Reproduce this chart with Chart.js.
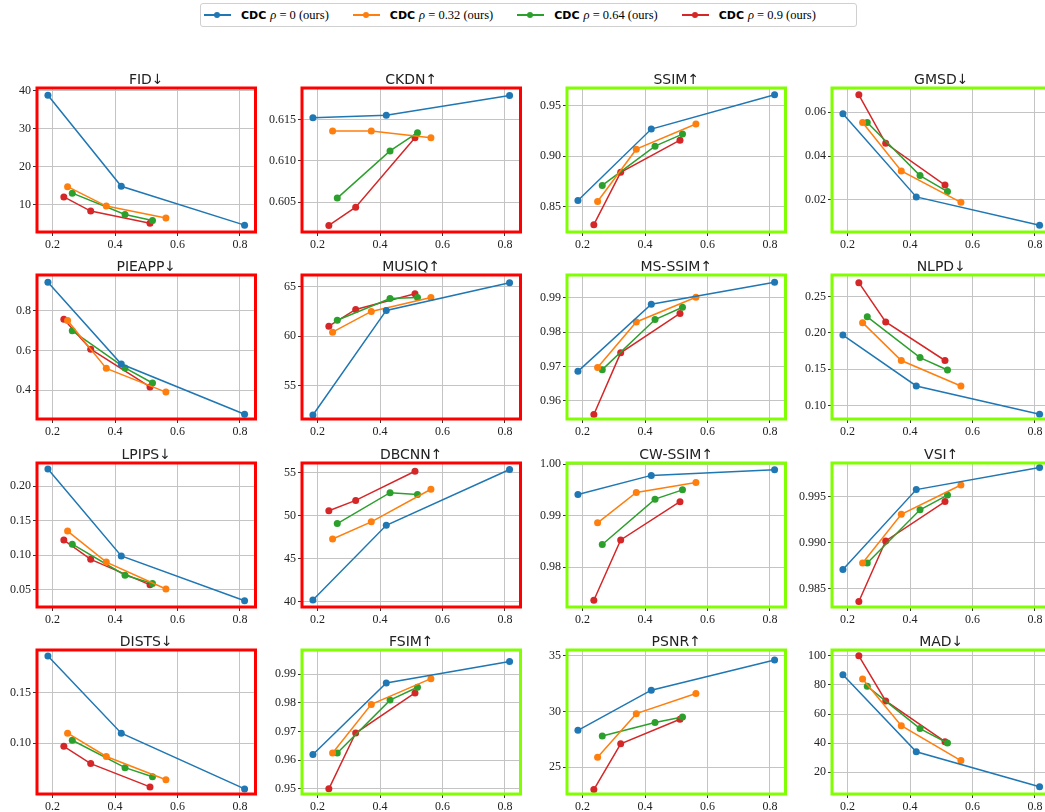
<!DOCTYPE html>
<html>
<head>
<meta charset="utf-8">
<script src="https://cdn.jsdelivr.net/npm/chart.js@4.4.1/dist/chart.umd.min.js"></script>
<style>
  html, body { margin: 0; padding: 0; background: #fff; width: 1045px; height: 812px; overflow: hidden; position: relative; }
  .cell { position: absolute; }
  .legend {
    position: absolute; left: 200px; top: 3px; width: 657px; height: 24px;
    border: 1px solid #d0d0d0; border-radius: 3px; box-sizing: border-box;
    display: flex; align-items: center; padding-left: 3px;
  }
  .item { display: flex; align-items: center; margin-right: 24px; }
  .item:last-child { margin-right: 0; }
  .swatch { position: relative; width: 27px; height: 10px; margin-right: 10px; }
  .swatch .ln { position: absolute; left: 0; right: 0; top: 4px; height: 2px; }
  .swatch .dt { position: absolute; left: 10px; top: 2px; width: 6px; height: 6px; border-radius: 50%; }
  .cdc { font-family: "DejaVu Sans", sans-serif; font-weight: bold; font-size: 11px; margin-right: 4px; }
  .math { font-family: "Liberation Serif", serif; font-size: 12.5px; }
  .math i { font-style: italic; }
</style>
</head>
<body>
<div class="legend" id="legend"></div>
<script>
// bit-rate positions for the four settings
const xRho0 = [0.185, 0.42, 0.815];
const xRho032 = [0.248, 0.372, 0.563];
const xRho064 = [0.263, 0.432, 0.52];
const xRho09 = [0.236, 0.322, 0.512];

const metricNames = ['FID↓', 'CKDN↑', 'SSIM↑', 'GMSD↓', 'PIEAPP↓', 'MUSIQ↑', 'MS-SSIM↑', 'NLPD↓',
                     'LPIPS↓', 'DBCNN↑', 'CW-SSIM↑', 'VSI↑', 'DISTS↓', 'FSIM↑', 'PSNR↑', 'MAD↓'];

const yRho0 = [
    [38.8, 14.9, 4.7], [0.6152, 0.6155, 0.6179], [0.856, 0.927, 0.961], [0.0593, 0.0214, 0.0085],
    [0.945, 0.532, 0.278], [52.0, 62.6, 65.4], [0.9686, 0.9882, 0.9946], [0.197, 0.127, 0.088],
    [0.225, 0.099, 0.034], [40.2, 48.9, 55.4], [0.9941, 0.9978, 0.9989], [0.9871, 0.9958, 0.9982],
    [0.186, 0.110, 0.055], [0.962, 0.987, 0.9945], [28.3, 31.9, 34.6], [87, 34, 10]
];
const yRho032 = [
    [14.8, 9.7, 6.6], [0.6136, 0.6136, 0.6128], [0.855, 0.907, 0.932], [0.0553, 0.0332, 0.0189],
    [0.752, 0.510, 0.390], [60.4, 62.5, 63.9], [0.9697, 0.9830, 0.9902], [0.214, 0.162, 0.127],
    [0.135, 0.090, 0.051], [47.3, 49.3, 53.1], [0.9886, 0.9945, 0.9964], [0.9878, 0.9931, 0.9963],
    [0.110, 0.087, 0.064], [0.9625, 0.9795, 0.9885], [25.9, 29.8, 31.6], [84, 52, 28]
];
const yRho064 = [
    [13.1, 7.5, 5.9], [0.6055, 0.6112, 0.6134], [0.871, 0.910, 0.922], [0.0553, 0.0311, 0.0238],
    [0.700, 0.512, 0.436], [61.6, 63.8, 63.9], [0.9691, 0.9837, 0.9873], [0.222, 0.166, 0.149],
    [0.116, 0.071, 0.059], [49.1, 52.7, 52.5], [0.9844, 0.9932, 0.9950], [0.9878, 0.9936, 0.9952],
    [0.103, 0.076, 0.067], [0.9625, 0.981, 0.9855], [27.8, 29.0, 29.5], [79, 50, 40]
];
const yRho09 = [
    [12.1, 8.4, 5.2], [0.6022, 0.6044, 0.6128], [0.832, 0.884, 0.916], [0.0679, 0.0458, 0.0268],
    [0.758, 0.607, 0.416], [61.0, 62.7, 64.3], [0.9560, 0.9740, 0.9855], [0.269, 0.215, 0.162],
    [0.122, 0.094, 0.057], [50.6, 51.8, 55.2], [0.9736, 0.9853, 0.9927], [0.9836, 0.9902, 0.9945],
    [0.097, 0.080, 0.057], [0.950, 0.9695, 0.9835], [23.0, 27.1, 29.3], [100, 69, 41]
];

// y tick labels and visible y range for each panel
const yTicks = [
    [10, 20, 30, 40], [0.605, 0.610, 0.615], [0.85, 0.90, 0.95], [0.02, 0.04, 0.06],
    [0.4, 0.6, 0.8], [55, 60, 65], [0.96, 0.97, 0.98, 0.99], [0.10, 0.15, 0.20, 0.25],
    [0.05, 0.10, 0.15, 0.20], [40, 45, 50, 55], [0.98, 0.99, 1.00], [0.985, 0.990, 0.995],
    [0.10, 0.15], [0.95, 0.96, 0.97, 0.98, 0.99], [25, 30, 35], [20, 40, 60, 80, 100]
];
const yMin = [2.9, 0.6014, 0.8247, 0.0054, 0.254, 51.6, 0.9547, 0.0816,
              0.0249, 39.38, 0.9723, 0.9830, 0.050, 0.9482, 22.6, 5];
const yMax = [40.7, 0.6188, 0.9678, 0.071, 0.982, 66.19, 0.9967, 0.2795,
              0.2338, 56.16, 1.0002, 0.9987, 0.192, 0.9985, 35.5, 104];
const xTicks = [0.2, 0.4, 0.6, 0.8];

const seriesLabels = ['0', '0.32', '0.64', '0.9'];
const colors = ['#1f77b4', '#ff7f0e', '#2ca02c', '#d62728'];
const badMetrics = ['FID↓', 'CKDN↑', 'PIEAPP↓', 'MUSIQ↑', 'LPIPS↓', 'DBCNN↑', 'DISTS↓'];

// grid geometry (plot areas)
const colLeft = [37, 302, 567, 832];
const rowTop = [88, 275, 463, 650];
const plotW = 222;
const plotH = 144;
const yAxisW = 40;
const topPad = 24;
const xAxisH = 22;

function decimalsOf(ticks) {
    let d = 0;
    ticks.forEach(t => {
        const s = String(t);
        if (s.includes('.')) d = Math.max(d, s.split('.')[1].length);
    });
    return d;
}

const framePlugin = {
    id: 'frame',
    afterDraw(chart, args, opts) {
        const { ctx, chartArea: a } = chart;
        ctx.save();
        ctx.strokeStyle = opts.color;
        ctx.lineWidth = 3;
        ctx.strokeRect(a.left, a.top, a.right - a.left, a.bottom - a.top);
        ctx.fillStyle = '#222';
        ctx.font = '14px "DejaVu Sans", sans-serif';
        ctx.textAlign = 'center';
        ctx.textBaseline = 'alphabetic';
        ctx.fillText(opts.title, (a.left + a.right) / 2, a.top - 4);
        ctx.restore();
    }
};

const xs = [xRho0, xRho032, xRho064, xRho09];
const ys = [yRho0, yRho032, yRho064, yRho09];

metricNames.forEach((name, i) => {
    const r = Math.floor(i / 4), c = i % 4;
    const div = document.createElement('div');
    div.className = 'cell';
    div.style.left = (colLeft[c] - yAxisW) + 'px';
    div.style.top = (rowTop[r] - topPad) + 'px';
    div.style.width = (plotW + yAxisW) + 'px';
    div.style.height = (topPad + plotH + xAxisH) + 'px';
    const canvas = document.createElement('canvas');
    div.appendChild(canvas);
    document.body.appendChild(div);

    const dec = decimalsOf(yTicks[i]);
    const datasets = colors.map((col, k) => ({
        label: 'CDC ρ = ' + seriesLabels[k] + ' (ours)',
        data: xs[k].map((x, j) => ({ x: x, y: ys[k][i][j] })),
        borderColor: col,
        backgroundColor: col,
        borderWidth: 1.5,
        pointRadius: 3.5,
        pointBorderWidth: 0,
        pointHoverRadius: 3.5,
        tension: 0
    }));

    new Chart(canvas, {
        type: 'line',
        data: { datasets: datasets },
        options: {
            responsive: true,
            maintainAspectRatio: false,
            animation: false,
            layout: { padding: { top: topPad, left: 0, right: 0, bottom: 0 } },
            plugins: {
                legend: { display: false },
                tooltip: { enabled: false },
                frame: { color: badMetrics.includes(name) ? '#ff0000' : '#80ff00', title: name }
            },
            scales: {
                x: {
                    type: 'linear',
                    min: 0.15, max: 0.85,
                    afterBuildTicks: s => { s.ticks = xTicks.map(v => ({ value: v })); },
                    afterFit: s => { s.height = xAxisH; },
                    grid: { color: '#c4c4c4', lineWidth: 1, drawTicks: true, tickLength: 4, tickColor: '#333' },
                    border: { display: false },
                    ticks: {
                        color: '#222', padding: 2, maxRotation: 0,
                        font: { family: '"Liberation Serif", serif', size: 12 },
                        callback: v => v.toFixed(1)
                    }
                },
                y: {
                    min: yMin[i], max: yMax[i],
                    afterBuildTicks: s => { s.ticks = yTicks[i].map(v => ({ value: v })); },
                    afterFit: s => { s.width = yAxisW; },
                    grid: { color: '#c4c4c4', lineWidth: 1, drawTicks: true, tickLength: 4, tickColor: '#333' },
                    border: { display: false },
                    ticks: {
                        color: '#222', padding: 2,
                        font: { family: '"Liberation Serif", serif', size: 12 },
                        callback: v => Number(v).toFixed(dec)
                    }
                }
            }
        },
        plugins: [framePlugin]
    });
});

// shared legend on top
const legend = document.getElementById('legend');
seriesLabels.forEach((lab, k) => {
    const item = document.createElement('div');
    item.className = 'item';
    item.innerHTML =
        '<span class="swatch"><span class="ln" style="background:' + colors[k] + '"></span>' +
        '<span class="dt" style="background:' + colors[k] + '"></span></span>' +
        '<span class="cdc">CDC</span>' +
        '<span class="math"><i>ρ</i> = ' + lab + ' (ours)</span>';
    legend.appendChild(item);
});
</script>
</body>
</html>
